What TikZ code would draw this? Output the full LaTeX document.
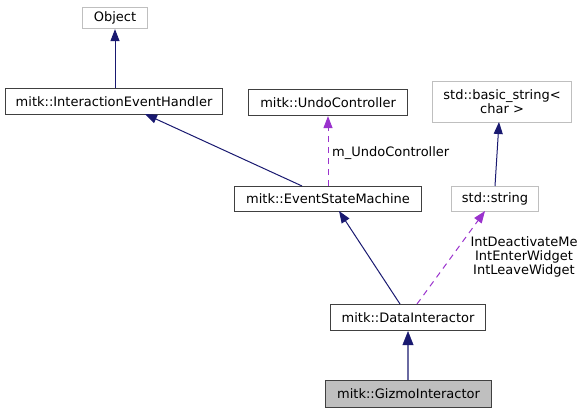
\documentclass[tikz,border=0pt]{standalone}
\usepackage{fontspec}
\setmainfont{DejaVu Sans}
\usetikzlibrary{arrows.meta}
\definecolor{navy}{HTML}{191970}
\definecolor{orchid}{HTML}{9A32CD}
\definecolor{lgray}{HTML}{BFBFBF}
\definecolor{dgray}{HTML}{404040}
\tikzset{
  box/.style={draw=dgray, line width=1.1pt, inner sep=0pt, font=\fontsize{13}{14}\selectfont, anchor=north west},
  gbox/.style={box, draw=lgray},
  inh/.style={draw=navy, line width=1pt, -{Triangle[length=12pt,width=9pt]}},
  use/.style={draw=orchid, line width=1pt, dash pattern=on 6pt off 5pt, -{Triangle[length=12pt,width=9pt]}},
  lbl/.style={font=\fontsize{13}{14}\selectfont, inner sep=0pt}
}
\begin{document}
\begin{tikzpicture}[x=1pt,y=-1pt]
\useasboundingbox (0,0) rectangle (585,412);
\node[gbox, minimum width=65pt, minimum height=21pt] (obj) at (82,7) {Object};
\node[box, minimum width=217pt, minimum height=26pt] (ieh) at (5,88) {mitk::InteractionEventHandler};
\node[box, minimum width=159pt, minimum height=26pt] (undo) at (248,89) {mitk::UndoController};
\node[gbox, minimum width=139pt, minimum height=41pt, align=center] (bs) at (432,81) {std::basic\_string<\\char >};
\node[box, minimum width=187pt, minimum height=25pt] (esm) at (234,186) {mitk::EventStateMachine};
\node[gbox, minimum width=87pt, minimum height=25pt] (str) at (451,186) {std::string};
\node[box, minimum width=155pt, minimum height=26pt] (di) at (330,304) {mitk::DataInteractor};
\node[box, fill=lgray, minimum width=166pt, minimum height=27pt] (gi) at (325,380) {mitk::GizmoInteractor};

\coordinate (a1) at (115,88);
\draw[inh] (a1) -- (a1 |- obj.south);
\coordinate (a2) at (302,186);
\coordinate (a2e) at (145,114);
\draw[inh] (a2) -- (a2e);
\coordinate (a3) at (328,186);
\draw[use] (a3) -- (a3 |- undo.south);
\node[lbl, anchor=west] (l1) at (332,153) {m\_UndoController};
\coordinate (a4) at (495,186);
\coordinate (a4e) at (499,122);
\draw[inh] (a4) -- (a4e);
\coordinate (a5) at (400,304);
\coordinate (a5e) at (339,211);
\draw[inh] (a5) -- (a5e);
\coordinate (a6) at (417,304);
\coordinate (a6e) at (485,211);
\draw[use] (a6) -- (a6e);
\node[lbl, align=center] (l2) at (524,257) {IntDeactivateMe\\IntEnterWidget\\IntLeaveWidget};
\coordinate (a7) at (408,380);
\draw[draw=navy!65, line width=1.6pt, -{Triangle[length=14pt,width=11pt,color=navy,line width=0.5pt]}] (a7) -- (a7 |- di.south);
\end{tikzpicture}
\end{document}
